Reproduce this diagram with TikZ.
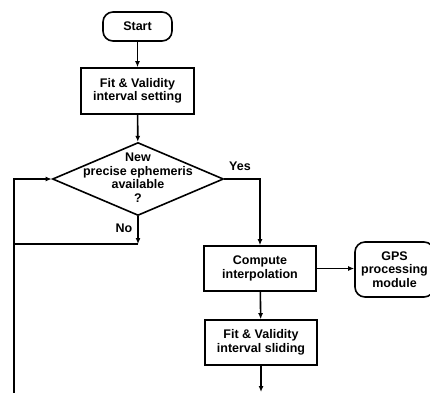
\documentclass[tikz,border=0pt]{standalone}
\usepackage{fontspec}
\setmainfont{Liberation Sans}
\usetikzlibrary{arrows.meta, positioning, shapes.geometric, calc}

\begin{document}
\begin{tikzpicture}[
    x=1pt, y=-1pt,
    every node/.style={font=\bfseries\fontsize{12.5}{13.5}\selectfont},
    terminal/.style={rectangle, rounded corners=10pt, draw, line width=1.6pt, minimum width=69pt, minimum height=29pt, inner sep=0pt, align=center},
    process/.style={rectangle, draw, line width=1.6pt, minimum width=113pt, minimum height=46pt, inner sep=0pt, align=center},
    decision/.style={diamond, draw, line width=1.6pt, minimum width=171pt, minimum height=73pt, inner sep=0pt},
    arrow/.style={-{Latex[length=6pt, width=5pt]}, line width=1.6pt},
    plain/.style={line width=1.6pt}
  ]
    \clip (0,0) rectangle (430,392);
    \useasboundingbox (0,0) rectangle (430,392);
    \node[terminal] (start) at (137.5,26.5) {Start};
    \node[process] (setting) at (137.5,91) {Fit \& Validity\\interval setting};
    \node[decision] (newephem) at (138,179) {};
    \node[align=center] (newephemtxt) at (138,177.5) {New\\precise ephemeris\\available\\?};
    \node[process, minimum width=112pt, minimum height=45pt] (interp) at (260,268.5) {Compute\\interpolation};
    \node[terminal, minimum width=79pt, minimum height=55pt] (gps) at (394.5,269.5) {GPS\\processing\\module};
    \node[process, minimum width=112pt, minimum height=45pt] (sliding) at (261,342.5) {Fit \& Validity\\interval sliding};
    \node (yes) at (240,166) {Yes};
    \node (no) at (124,228) {No};
    \coordinate (nojoin) at (138,244);
    \coordinate (loopbot) at (14,394);
    \coordinate (slideout) at (261,392);
    \draw[arrow] (start) -- (setting);
    \draw[arrow] (setting) -- (newephem);
    \draw[arrow] (newephem.east) -| (interp.north);
    \draw[arrow] (newephem.south) -- (nojoin);
    \draw[plain] (nojoin) -- (nojoin -| loopbot);
    \draw[arrow] (loopbot) |- (newephem.west);
    \draw[arrow] (interp.east) -- (interp.east -| gps.west);
    \draw[arrow] (interp) -- (sliding);
    \draw[arrow] (sliding) -- (slideout);
  \end{tikzpicture}
\end{document}
